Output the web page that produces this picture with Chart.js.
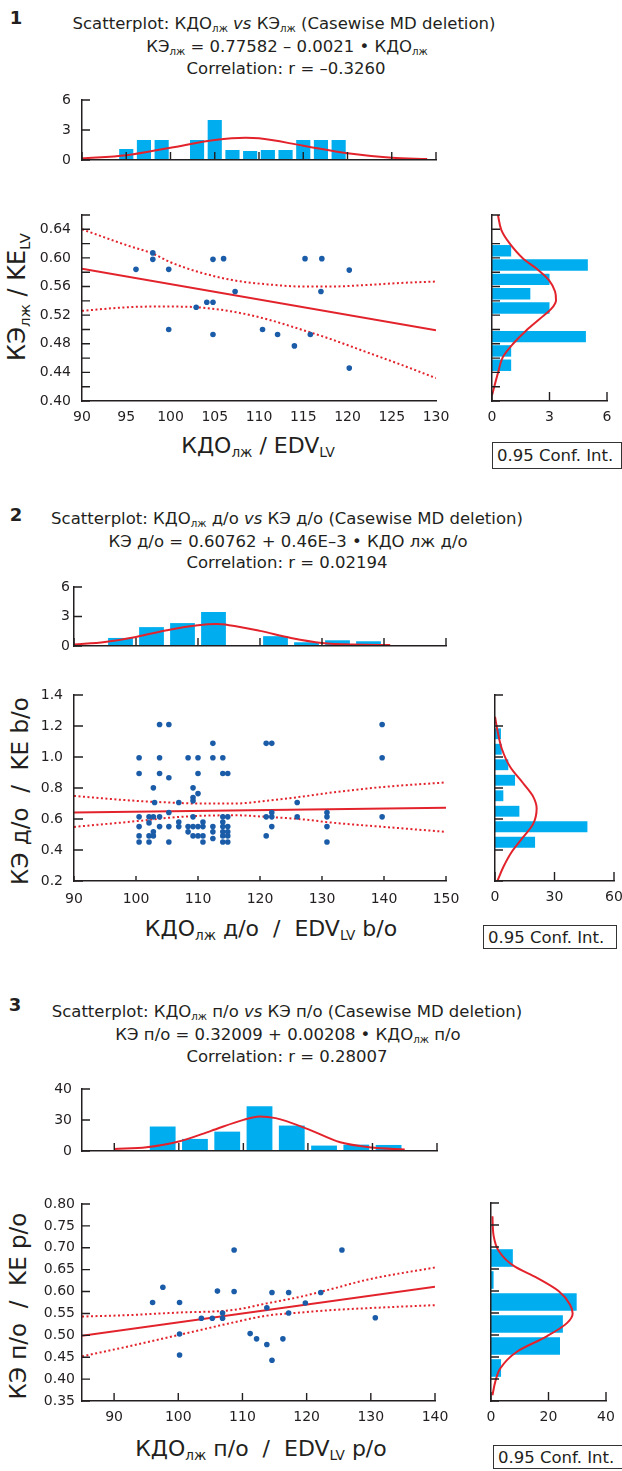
<!DOCTYPE html>
<html>
<head>
<meta charset="utf-8">
<script src="https://cdn.jsdelivr.net/npm/chart.js@4.4.1/dist/chart.umd.min.js"></script>
<style>
  body { margin: 0; background: #fff; }
  #page { position: relative; width: 622px; height: 1471px; overflow: hidden;
          font-family: 'DejaVu Sans', sans-serif; color: #231f20; }
  .t { position: absolute; white-space: nowrap; transform: translate(-50%, -50%); line-height: 1; }
  .rot { transform: translate(-50%, -50%) rotate(-90deg); }
  .num { font-weight: bold; font-size: 18px; }
  .ttl { font-size: 16.5px; }
  .axt { font-size: 22px; }
  .sb { font-size: 0.62em; vertical-align: -0.28em; }
  .ci { position: absolute; box-sizing: border-box; border: 1px solid #333; font-size: 16.5px;
        padding-left: 4px; white-space: nowrap; display: flex; align-items: center; }
  .box { position: absolute; }
</style>
</head>
<body>
<div id="page">
  <!-- panel 1 -->
  <div class="t num" style="left:16px;top:18px">1</div>
  <div class="t ttl" style="left:284px;top:25px">Scatterplot: КДО<span class="sb">лж</span> <i>vs</i> КЭ<span class="sb">лж</span> (Casewise MD deletion)</div>
  <div class="t ttl" style="left:287px;top:48px">КЭ<span class="sb">лж</span> = 0.77582 – 0.0021 • КДО<span class="sb">лж</span></div>
  <div class="t ttl" style="left:286px;top:69px">Correlation: r = –0.3260</div>
  <div class="t axt" style="left:258px;top:447px">КДО<span class="sb">лж</span> / EDV<span class="sb">LV</span></div>
  <div class="t axt rot" style="left:19px;top:297px;font-size:24px">КЭ<span class="sb">лж</span> / KE<span class="sb">LV</span></div>
  <div class="ci" style="left:492px;top:442px;width:130px;height:27px">0.95 Conf. Int.</div>

  <!-- panel 2 -->
  <div class="t num" style="left:16px;top:515px">2</div>
  <div class="t ttl" style="left:287px;top:520px">Scatterplot: КДО<span class="sb">лж</span> д/о <i>vs</i> КЭ д/о (Casewise MD deletion)</div>
  <div class="t ttl" style="left:288px;top:542px">КЭ д/о = 0.60762 + 0.46E–3 • КДО лж д/о</div>
  <div class="t ttl" style="left:287px;top:563px">Correlation: r = 0.02194</div>
  <div class="t axt" style="left:271px;top:930px">КДО<span class="sb">лж</span> д/о &nbsp;/&nbsp; EDV<span class="sb">LV</span> b/o</div>
  <div class="t axt rot" style="left:20px;top:791px;font-size:23px">КЭ д/о &nbsp;/&nbsp; KE b/o</div>
  <div class="ci" style="left:483px;top:925px;width:134px;height:24px">0.95 Conf. Int.</div>

  <!-- panel 3 -->
  <div class="t num" style="left:15px;top:1005px">3</div>
  <div class="t ttl" style="left:287px;top:1013px">Scatterplot: КДО<span class="sb">лж</span> п/о <i>vs</i> КЭ п/о (Casewise MD deletion)</div>
  <div class="t ttl" style="left:288px;top:1036px">КЭ п/о = 0.32009 + 0.00208 • КДО<span class="sb">лж</span> п/о</div>
  <div class="t ttl" style="left:287px;top:1057px">Correlation: r = 0.28007</div>
  <div class="t axt" style="left:261px;top:1450px">КДО<span class="sb">лж</span> п/о &nbsp;/&nbsp; EDV<span class="sb">LV</span> p/o</div>
  <div class="t axt rot" style="left:18px;top:1306px;font-size:23px">КЭ п/о &nbsp;/&nbsp; KE p/o</div>
  <div class="ci" style="left:493px;top:1445px;width:130px;height:24px">0.95 Conf. Int.</div>
</div>

<script>
// ---------- panel 1 data ----------
const p1Kdo = [96.1, 98.0, 98.0, 99.8, 99.8, 102.9, 104.1, 104.8, 104.8, 104.8, 106.0,
               107.3, 110.4, 112.1, 114.0, 115.2, 115.8, 117.1, 117.0, 120.2, 120.2];
const p1Ke = [0.584, 0.607, 0.598, 0.584, 0.500, 0.531, 0.538, 0.538, 0.598, 0.493, 0.599,
              0.553, 0.500, 0.493, 0.477, 0.599, 0.493, 0.599, 0.553, 0.583, 0.446];
const p1FitX = [90, 130];
const p1FitY = [0.585, 0.499];
const p1BandX = [90, 95, 98, 100, 103, 107, 111, 115, 118, 122, 126, 130];
const p1UpperY = [0.640, 0.618, 0.606, 0.594, 0.581, 0.569, 0.563, 0.560, 0.560, 0.562, 0.565, 0.567];
const p1LowerY = [0.526, 0.531, 0.532, 0.532, 0.531, 0.525, 0.514, 0.499, 0.487, 0.469, 0.451, 0.432];
const p1BinX = [95, 97, 99, 101, 103, 105, 107, 109, 111, 113, 115, 117, 119];
const p1BinN = [1.1, 2, 2, 0, 2, 4, 1, 0.9, 1, 1, 2, 2, 2];
const p1CurveX = [90, 95, 100, 105, 108.5, 110, 115, 120, 125, 129];
const p1CurveN = [0.17, 0.47, 1.23, 2.0, 2.23, 2.17, 1.43, 0.67, 0.23, 0.1];
const p1SideY = [0.45, 0.47, 0.49, 0.51, 0.53, 0.55, 0.57, 0.59, 0.61];
const p1SideN = [1, 1, 4.9, 0, 3, 2, 3, 5, 1];
const p1SideCurveY = [0.408, 0.439, 0.462, 0.480, 0.499, 0.515, 0.529, 0.541, 0.553, 0.569, 0.585, 0.599, 0.620, 0.639, 0.660];
const p1SideCurveN = [0, 0.31, 0.58, 1.1, 1.8, 2.5, 3.1, 3.34, 3.29, 2.97, 2.33, 1.63, 0.93, 0.49, 0.31];

// ---------- panel 2 data ----------
const p2Kdo = [
  100.5, 100.5, 100.5, 100.5, 100.5, 100.5,
  102.1, 102.1, 102.1, 102.1,
  102.8, 102.8, 102.8, 102.8,
  103.0,
  103.8, 103.8, 103.8, 103.8, 103.8,
  105.3, 105.3, 105.3, 105.3, 105.3,
  106.9, 106.9, 106.9,
  108.4, 108.4, 108.4,
  109.2, 109.2, 109.2, 109.2, 109.2, 109.2,
  110.0, 110.0, 110.0, 110.0, 110.0,
  110.8, 110.8, 110.8, 110.8,
  112.4, 112.4, 112.4, 112.4, 112.4,
  114.0, 114.0, 114.0, 114.0, 114.0, 114.0, 114.0, 114.0,
  114.8, 114.8, 114.8, 114.8, 114.8, 114.8,
  121.0, 121.0, 121.0,
  121.9, 121.9, 121.9, 121.9,
  126.0, 126.0,
  130.8, 130.8, 130.8, 130.8,
  139.7, 139.7, 139.7];
const p2Ke = [
  0.995, 0.894, 0.614, 0.551, 0.491, 0.452,
  0.614, 0.575, 0.491, 0.452,
  0.801, 0.614, 0.517, 0.491,
  0.706,
  1.210, 0.995, 0.894, 0.614, 0.551,
  1.210, 0.866, 0.642, 0.551, 0.452,
  0.706, 0.581, 0.551,
  0.995, 0.551, 0.517,
  0.801, 0.739, 0.717, 0.614, 0.551, 0.491,
  0.995, 0.894, 0.764, 0.551, 0.491,
  0.581, 0.551, 0.491, 0.452,
  1.088, 0.995, 0.551, 0.517, 0.474,
  0.995, 0.894, 0.614, 0.581, 0.551, 0.517, 0.491, 0.452,
  0.894, 0.614, 0.551, 0.517, 0.491, 0.452,
  1.088, 0.614, 0.491,
  1.088, 0.642, 0.614, 0.551,
  0.706, 0.614,
  0.642, 0.614, 0.551, 0.452,
  1.210, 0.995, 0.614];
const p2FitX = [90, 150];
const p2FitY = [0.642, 0.672];
const p2BandX = [90, 100, 105, 110, 116, 121, 126.5, 132, 140, 150];
const p2UpperY = [0.749, 0.717, 0.707, 0.700, 0.700, 0.717, 0.743, 0.773, 0.807, 0.836];
const p2LowerY = [0.549, 0.586, 0.607, 0.620, 0.624, 0.614, 0.599, 0.575, 0.549, 0.517];
const p2BinX = [97.5, 102.5, 107.5, 112.5, 117.5, 122.5, 127.5, 132.5, 137.5];
const p2BinN = [0.82, 1.92, 2.33, 3.46, 0, 1.0, 0.38, 0.58, 0.48];
const p2CurveX = [90, 95, 100, 105, 110, 113, 115, 120, 125, 130, 135, 141];
const p2CurveN = [0.14, 0.41, 0.92, 1.61, 2.12, 2.23, 2.12, 1.54, 0.82, 0.31, 0.14, 0.1];
const p2SideY = [0.45, 0.55, 0.65, 0.75, 0.85, 0.95, 1.05, 1.15];
const p2SideN = [20.2, 46.6, 12.3, 4.2, 10.1, 6.7, 3.4, 3.0];
const p2SideCurveY = [0.2, 0.29, 0.387, 0.484, 0.57, 0.668, 0.743, 0.829, 0.937, 1.055, 1.174, 1.26];
const p2SideCurveN = [1.2, 4.2, 8.4, 14.3, 19.3, 21, 19.3, 14.3, 7.6, 3.4, 1.2, 0];

// ---------- panel 3 data ----------
const p3Kdo = [96.0, 97.6, 100.2, 100.2, 100.2, 103.6, 105.3, 106.1, 106.9, 106.9, 108.7, 108.7, 111.2,
               112.2, 113.8, 113.8, 114.6, 114.6, 116.3, 117.2, 117.2, 119.8, 122.2, 125.5, 130.7];
const p3Ke = [0.575, 0.610, 0.575, 0.503, 0.455, 0.539, 0.539, 0.601, 0.551, 0.539, 0.695, 0.600, 0.504,
              0.492, 0.479, 0.563, 0.598, 0.443, 0.492, 0.598, 0.551, 0.574, 0.598, 0.695, 0.540];
const p3FitX = [85, 140];
const p3FitY = [0.499, 0.611];
const p3BandX = [85, 92, 100, 108.6, 113.8, 119, 124.2, 129.4, 140];
const p3UpperY = [0.543, 0.546, 0.552, 0.558, 0.573, 0.588, 0.607, 0.627, 0.655];
const p3LowerY = [0.452, 0.474, 0.5005, 0.5295, 0.545, 0.552, 0.558, 0.562, 0.569];
const p3BinX = [97.5, 102.5, 107.5, 112.5, 117.5, 122.5, 127.5, 132.5];
const p3BinN = [15.8, 7.8, 12.5, 28.8, 16.4, 3.5, 4.1, 3.9];
const p3TopTicks = ['0', '30', '40'];
const p3CurveX = [90, 95, 100, 105, 110, 112.5, 115, 120, 125, 130, 135];
const p3CurveN = [1.3, 2.4, 6.1, 13, 20.1, 22.3, 21.2, 14.1, 5.6, 2.2, 0.9];
const p3SideY = [0.425, 0.475, 0.525, 0.575, 0.625, 0.675];
const p3SideN = [3.5, 24.0, 25.0, 29.8, 0.9, 7.6];
const p3SideCurveY = [0.363, 0.394, 0.424, 0.462, 0.497, 0.527, 0.549, 0.569, 0.60, 0.63, 0.657, 0.691, 0.726, 0.77];
const p3SideCurveN = [0.5, 1.5, 3.2, 9, 19.4, 26.4, 28.4, 27.5, 23.5, 16, 7.9, 2.7, 0.9, 0.5];

// ---------- drawing ----------
const INK = '#231f20';
const BAR = '#00aeef';
const DOT = '#1b5ca8';
const RED = '#e3232c';

Chart.defaults.font.family = "'DejaVu Sans', sans-serif";
Chart.defaults.font.size = 14;
Chart.defaults.color = INK;
Chart.defaults.animation = false;
Chart.defaults.events = [];
Chart.defaults.plugins.legend.display = false;
Chart.defaults.plugins.tooltip.enabled = false;

// short tick marks pointing into the plot, drawn over the bars
Chart.register({
  id: 'inTicks',
  afterDatasetsDraw(chart, args, opts) {
    const { ctx, chartArea: a } = chart;
    ctx.save();
    ctx.strokeStyle = INK;
    ctx.lineWidth = 1.4;
    ctx.beginPath();
    if (opts.x) chart.scales.x.ticks.forEach(t => {
      const p = chart.scales.x.getPixelForValue(t.value);
      ctx.moveTo(p, a.bottom);
      ctx.lineTo(p, a.bottom - opts.x);
    });
    if (opts.y) chart.scales.y.ticks.forEach(t => {
      const p = chart.scales.y.getPixelForValue(t.value);
      ctx.moveTo(a.left, p);
      ctx.lineTo(a.left + opts.y, p);
    });
    ctx.stroke();
    ctx.restore();
  }
});

const pts = (xs, ys) => xs.map((x, i) => ({ x, y: ys[i] }));

// g = plot area [left, top, right, bottom], yw/xh = axis sizes, pad = [top, right, bottom, left]
// (pads are kept larger than Chart.js's label overhang so the plot area lands exactly on g)
function place(g, yw, xh, pad) {
  const div = document.createElement('div');
  div.className = 'box';
  div.style.left = (g[0] - yw - pad[3]) + 'px';
  div.style.top = (g[1] - pad[0]) + 'px';
  div.style.width = (g[2] - g[0] + yw + pad[1] + pad[3]) + 'px';
  div.style.height = (g[3] - g[1] + xh + pad[0] + pad[2]) + 'px';
  const cv = document.createElement('canvas');
  div.appendChild(cv);
  document.getElementById('page').appendChild(div);
  return cv;
}

function axis(min, max, step, size, labels, padding) {
  return {
    type: 'linear', min, max, offset: false,
    grid: { display: false, drawTicks: false },
    border: { display: true, color: INK, width: 1.5, z: 1 },
    ticks: {
      stepSize: step, includeBounds: false, autoSkip: false, maxRotation: 0,
      display: !!labels, callback: labels || undefined, padding: padding || 8
    },
    afterFit(s) { if (s.isHorizontal()) s.height = size; else s.width = size; }
  };
}

const plain = v => String(v);

function scatter(g, xs, ys, fitX, fitY, bandX, upper, lower, xAx, yAx, tickLen) {
  const pad = [26, 30, 0, 0];
  new Chart(place(g, 70, 30, pad), {
    type: 'scatter',
    data: {
      datasets: [
        { data: pts(xs, ys), backgroundColor: DOT, borderWidth: 0, pointRadius: 2.8 },
        { type: 'line', data: pts(fitX, fitY), borderColor: RED, borderWidth: 2, pointRadius: 0 },
        { type: 'line', data: pts(bandX, upper), borderColor: RED, borderWidth: 2, borderDash: [2, 2.5],
          pointRadius: 0, cubicInterpolationMode: 'monotone' },
        { type: 'line', data: pts(bandX, lower), borderColor: RED, borderWidth: 2, borderDash: [2, 2.5],
          pointRadius: 0, cubicInterpolationMode: 'monotone' }
      ]
    },
    options: {
      responsive: true, maintainAspectRatio: false,
      layout: { padding: { top: pad[0], right: pad[1], bottom: pad[2], left: pad[3] } },
      scales: { x: xAx, y: yAx },
      plugins: { inTicks: tickLen }
    }
  });
}

function topHist(g, binX, binN, curveX, curveN, xAx, yAx) {
  const pad = [26, 14, 26, 0];
  new Chart(place(g, 50, 0, pad), {
    type: 'bar',
    data: {
      datasets: [
        { type: 'line', data: pts(curveX, curveN), borderColor: RED, borderWidth: 2, pointRadius: 0,
          cubicInterpolationMode: 'monotone' },
        { data: pts(binX, binN), backgroundColor: BAR, categoryPercentage: 1, barPercentage: 0.8 }
      ]
    },
    options: {
      responsive: true, maintainAspectRatio: false,
      layout: { padding: { top: pad[0], right: pad[1], bottom: pad[2], left: pad[3] } },
      scales: { x: xAx, y: yAx },
      plugins: { inTicks: { x: 8, y: 8 } }
    }
  });
}

function sideHist(g, binY, binN, curveY, curveN, xAx, yAx, barPct) {
  const pad = [12, 22, 0, 18];
  new Chart(place(g, 0, 30, pad), {
    type: 'bar',
    data: {
      datasets: [
        { type: 'line', indexAxis: 'y', data: pts(curveN, curveY), borderColor: RED, borderWidth: 2,
          pointRadius: 0, cubicInterpolationMode: 'monotone' },
        { indexAxis: 'y', data: pts(binN, binY), backgroundColor: BAR, categoryPercentage: 1, barPercentage: barPct }
      ]
    },
    options: {
      indexAxis: 'y',
      responsive: true, maintainAspectRatio: false,
      layout: { padding: { top: pad[0], right: pad[1], bottom: pad[2], left: pad[3] } },
      scales: { x: xAx, y: yAx },
      plugins: { inTicks: { x: 9, y: 8 } }
    }
  });
}

// panel 1
topHist([82, 100, 436, 160], p1BinX, p1BinN, p1CurveX, p1CurveN,
  axis(90, 130, 5, 0), axis(0, 6, 3, 50, plain, 11));
scatter([82, 215, 436, 401], p1Kdo, p1Ke, p1FitX, p1FitY, p1BandX, p1UpperY, p1LowerY,
  axis(90, 130, 5, 30, plain, 8),
  axis(0.40, 0.66, 0.02, 70, v => (Math.round(v * 100) % 4 === 0 ? v.toFixed(2) : ''), 11),
  { y: 8 });
sideHist([492, 215, 607, 401], p1SideY, p1SideN, p1SideCurveY, p1SideCurveN,
  axis(0, 6, 3, 30, plain, 8), axis(0.40, 0.66, 0.02, 0), 0.8);

// panel 2
topHist([74, 587, 446, 646], p2BinX, p2BinN, p2CurveX, p2CurveN,
  axis(90, 150, 10, 0), axis(0, 6, 3, 50, plain, 4));
scatter([74, 695, 446, 881], p2Kdo, p2Ke, p2FitX, p2FitY, p2BandX, p2UpperY, p2LowerY,
  axis(90, 150, 10, 30, plain, 10),
  axis(0.2, 1.4, 0.2, 70, v => v.toFixed(1), 11),
  { x: 5, y: 9 });
sideHist([495, 695, 614, 881], p2SideY, p2SideN, p2SideCurveY, p2SideCurveN,
  axis(0, 60, 30, 30, plain, 8), axis(0.2, 1.4, 0.2, 0), 0.7);

// panel 3
topHist([82, 1089, 437, 1151], p3BinX, p3BinN, p3CurveX, p3CurveN,
  axis(85, 140, 10, 0), axis(0, 40, 20, 50, (v, i) => p3TopTicks[i], 10));
scatter([82, 1204, 435, 1401], p3Kdo, p3Ke, p3FitX, p3FitY, p3BandX, p3UpperY, p3LowerY,
  axis(85, 140, 10, 30, plain, 8),
  axis(0.35, 0.80, 0.05, 70, v => v.toFixed(2), 7),
  { x: 8, y: 8 });
sideHist([491, 1203, 606, 1401], p3SideY, p3SideN, p3SideCurveY, p3SideCurveN,
  axis(0, 40, 20, 30, plain, 8), axis(0.35, 0.80, 0.05, 0), 0.8);
</script>
</body>
</html>
